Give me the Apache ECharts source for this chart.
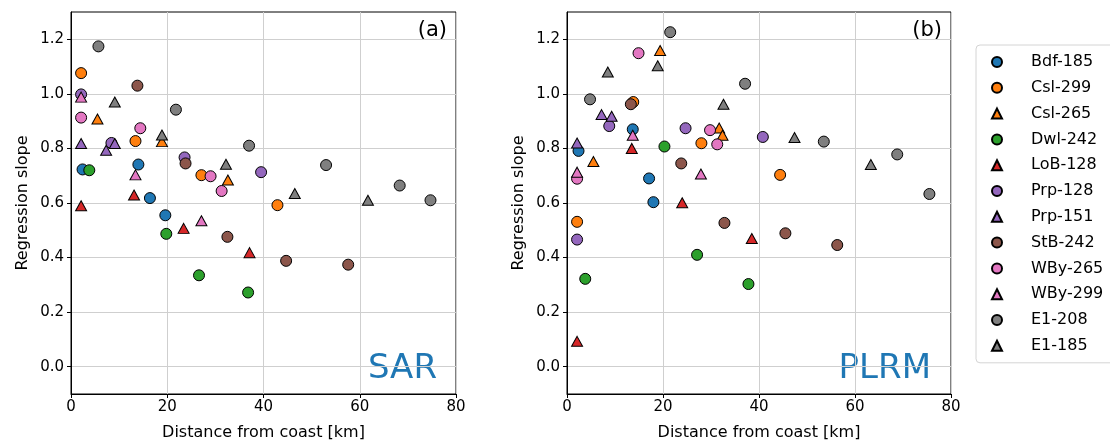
<!DOCTYPE html>
<html>
<head>
<meta charset="utf-8">
<script src="https://cdn.jsdelivr.net/npm/echarts@6/dist/echarts.min.js"></script>
<style>
  html, body { margin: 0; padding: 0; background: #fff; }
  #chart { width: 1110px; height: 442px; }
</style>
</head>
<body>
<div id="chart"></div>
<script>
const stations = ['Bdf-185', 'Csl-299', 'Csl-265', 'Dwl-242', 'LoB-128', 'Prp-128',
  'Prp-151', 'StB-242', 'WBy-265', 'WBy-299', 'E1-208', 'E1-185'];
const stationColors = ['#1f77b4', '#ff7f0e', '#ff7f0e', '#2ca02c', '#d62728', '#9467bd',
  '#9467bd', '#8c564b', '#e377c2', '#e377c2', '#7f7f7f', '#7f7f7f'];
const stationShapes = ['circle', 'circle', 'triangle', 'circle', 'triangle', 'circle',
  'triangle', 'circle', 'circle', 'triangle', 'circle', 'triangle'];

// (a) SAR  [distance km, slope]
const sarBdf185 = [[2.4, 0.723], [14.0, 0.741], [16.4, 0.618], [19.6, 0.555]];
const sarCsl299 = [[2.1, 1.076], [13.4, 0.827], [27.1, 0.702], [42.9, 0.592]];
const sarCsl265 = [[5.5, 0.908], [18.9, 0.825], [32.6, 0.684]];
const sarDwl242 = [[3.8, 0.72], [19.8, 0.487], [26.6, 0.335], [36.8, 0.272]];
const sarLoB128 = [[2.1, 0.59], [13.1, 0.629], [23.4, 0.507], [37.1, 0.418]];
const sarPrp128 = [[2.1, 0.998], [8.4, 0.82], [23.6, 0.767], [39.5, 0.713]];
const sarPrp151 = [[2.1, 0.818], [7.3, 0.793], [9.1, 0.818]];
const sarStB242 = [[13.8, 1.03], [23.8, 0.745], [32.5, 0.476], [44.7, 0.388], [57.6, 0.374]];
const sarWBy265 = [[2.1, 0.913], [14.4, 0.874], [29.0, 0.698], [31.3, 0.644]];
const sarWBy299 = [[2.1, 0.988], [13.4, 0.703], [27.1, 0.535]];
const sarE1208 = [[5.7, 1.174], [21.8, 0.942], [37.0, 0.81], [53.0, 0.739], [68.3, 0.664], [74.7, 0.61]];
const sarE1185 = [[9.1, 0.97], [18.9, 0.849], [32.2, 0.742], [46.5, 0.635], [61.7, 0.61]];

// (b) PLRM
const plrmBdf185 = [[2.4, 0.791], [13.7, 0.87], [17.1, 0.69], [18.0, 0.603]];
const plrmCsl299 = [[2.1, 0.531], [13.8, 0.97], [28.0, 0.819], [44.4, 0.703]];
const plrmCsl265 = [[5.5, 0.752], [19.4, 1.159], [31.7, 0.875], [32.4, 0.848]];
const plrmDwl242 = [[3.8, 0.322], [20.3, 0.807], [27.1, 0.41], [37.8, 0.303]];
const plrmLoB128 = [[2.1, 0.093], [13.5, 0.80], [24.0, 0.601], [38.5, 0.47]];
const plrmPrp128 = [[2.1, 0.466], [8.8, 0.882], [24.7, 0.874], [40.8, 0.842]];
const plrmPrp151 = [[2.1, 0.82], [7.2, 0.924], [9.3, 0.918]];
const plrmStB242 = [[13.3, 0.962], [23.8, 0.745], [32.8, 0.527], [45.5, 0.489], [56.3, 0.446]];
const plrmWBy265 = [[2.1, 0.689], [14.9, 1.149], [29.8, 0.867], [31.3, 0.815]];
const plrmWBy299 = [[2.1, 0.713], [13.7, 0.848], [27.9, 0.706]];
const plrmE1208 = [[4.8, 0.98], [21.5, 1.226], [37.1, 1.037], [53.5, 0.825], [68.8, 0.778], [75.5, 0.633]];
const plrmE1185 = [[8.5, 1.08], [18.9, 1.103], [32.6, 0.962], [47.4, 0.84], [63.3, 0.741]];

const sarData = [sarBdf185, sarCsl299, sarCsl265, sarDwl242, sarLoB128, sarPrp128,
  sarPrp151, sarStB242, sarWBy265, sarWBy299, sarE1208, sarE1185];
const plrmData = [plrmBdf185, plrmCsl299, plrmCsl265, plrmDwl242, plrmLoB128, plrmPrp128,
  plrmPrp151, plrmStB242, plrmWBy265, plrmWBy299, plrmE1208, plrmE1185];

const yTicks = [0, 0.2, 0.4, 0.6, 0.8, 1.0, 1.2];
const xTicks = [0, 20, 40, 60, 80];

const font = 'DejaVu Sans';

const makeX = (gridIndex) => ({
  type: 'value',
  gridIndex,
  min: xTicks[0],
  max: xTicks[xTicks.length - 1],
  interval: 20,
  name: 'Distance from coast [km]',
  nameLocation: 'middle',
  nameGap: 31,
  nameTextStyle: { color: '#000', fontSize: 16, fontFamily: font },
  axisLine: { show: true, onZero: false, lineStyle: { color: '#000', width: 1 } },
  axisTick: { show: true, inside: false, length: 4, lineStyle: { color: '#000' } },
  axisLabel: { color: '#000', fontSize: 15, fontFamily: font, margin: 6 },
  splitLine: { show: true, lineStyle: { color: '#cfcfcf', width: 1 } },
});

const makeY = (gridIndex) => ({
  type: 'value',
  gridIndex,
  min: -0.1,
  max: 1.3,
  name: 'Regression slope',
  nameLocation: 'middle',
  nameGap: 40,
  nameTextStyle: { color: '#000', fontSize: 16, fontFamily: font },
  axisLine: { show: true, onZero: false, lineStyle: { color: '#000', width: 1 } },
  axisTick: { show: true, length: 4, customValues: yTicks, lineStyle: { color: '#000' } },
  axisLabel: {
    color: '#000', fontSize: 15, fontFamily: font, margin: 7,
    customValues: yTicks,
    formatter: (v) => v.toFixed(1),
  },
  splitLine: { show: true, lineStyle: { color: '#cfcfcf', width: 1 } },
});

const series = [];
[sarData, plrmData].forEach((panel, p) => {
  panel.forEach((pts, i) => {
    series.push({
      name: stations[i],
      type: 'scatter',
      xAxisIndex: p,
      yAxisIndex: p,
      symbol: stationShapes[i],
      symbolSize: stationShapes[i] === 'triangle' ? [11, 10] : 11,
      itemStyle: { color: stationColors[i], borderColor: '#000', borderWidth: 1, opacity: 1 },
      data: pts,
    });
  });
});

const chart = echarts.init(document.getElementById('chart'), null, { renderer: 'canvas' });
chart.setOption({
  animation: false,
  backgroundColor: '#fff',
  grid: [
    { left: 71, top: 12, width: 385, height: 382, outerBoundsMode: 'none', containLabel: false,
      show: true, borderColor: '#000', borderWidth: 1 },
    { left: 567, top: 12, width: 384, height: 382, outerBoundsMode: 'none', containLabel: false,
      show: true, borderColor: '#000', borderWidth: 1 },
  ],
  xAxis: [makeX(0), makeX(1)],
  yAxis: [makeY(0), makeY(1)],
  legend: {
    orient: 'vertical',
    left: 976,
    top: 45,
    padding: [9, 30, 9, 15],
    itemGap: 9.8,
    itemWidth: 10,
    itemHeight: 10,
    borderColor: '#d4d4d4',
    borderWidth: 1,
    borderRadius: 4,
    textStyle: { color: '#000', fontSize: 16, fontFamily: font, lineHeight: 16, padding: [0, 0, 0, 24] },
    data: stations.map((s, i) => ({ name: s, icon: stationShapes[i] })),
  },
  graphic: [
    { type: 'text', right: 663, top: 20, style: { text: '(a)', fontSize: 21, fontFamily: font, fill: '#000' } },
    { type: 'text', right: 673, top: 352, style: { text: 'SAR', fontSize: 34, fontFamily: font, fill: '#1f77b4' } },
    { type: 'text', right: 168, top: 20, style: { text: '(b)', fontSize: 21, fontFamily: font, fill: '#000' } },
    { type: 'text', right: 179, top: 352, style: { text: 'PLRM', fontSize: 34, fontFamily: font, fill: '#1f77b4' } },
  ],
  series,
});
</script>
</body>
</html>
